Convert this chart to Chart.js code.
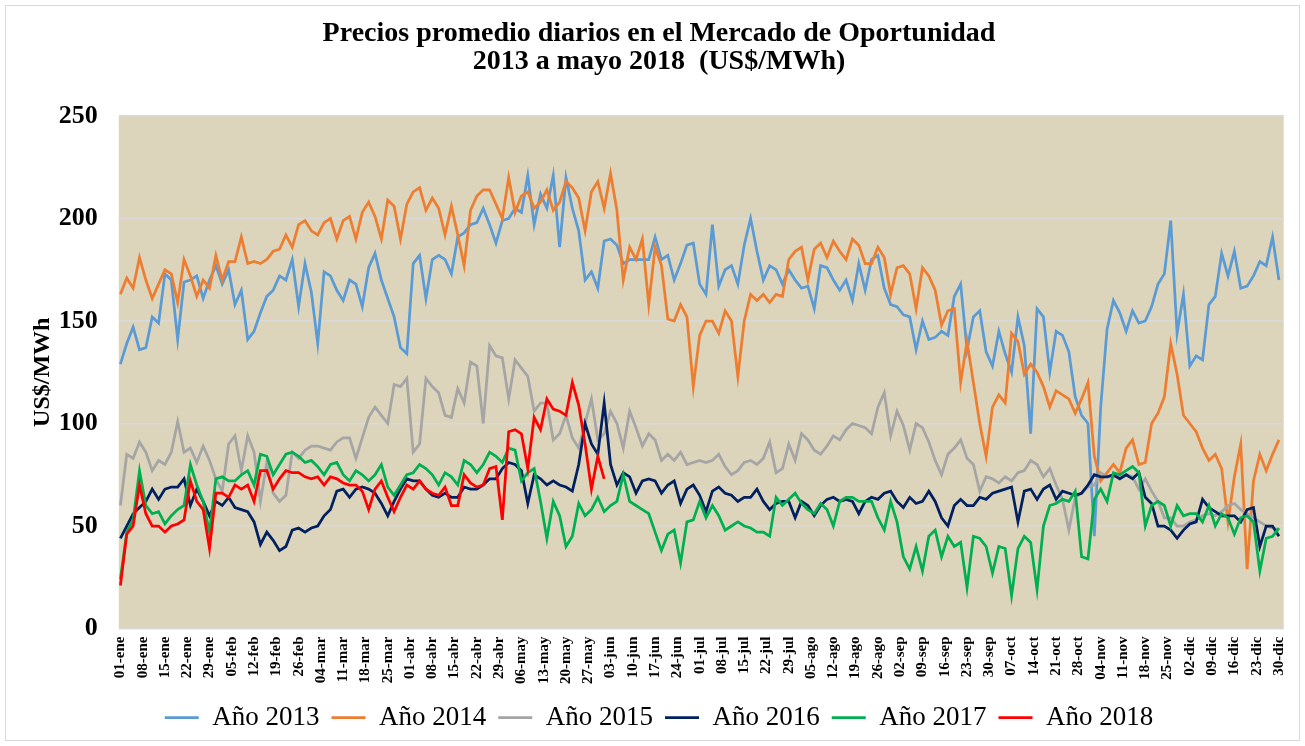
<!DOCTYPE html>
<html>
<head>
<meta charset="utf-8">
<script src="https://cdn.jsdelivr.net/npm/chart.js@4"></script>
<style>
  html, body { margin: 0; padding: 0; background: #ffffff; }
</style>
</head>
<body>
<canvas id="precios" width="1305" height="746"></canvas>
<script>
// valores leidos cada 2 dias (dia 0 = 1 de enero)
var PASO = 2;

var tickLabels = ["01-ene","08-ene","15-ene","22-ene","29-ene","05-feb","12-feb","19-feb","26-feb",
  "04-mar","11-mar","18-mar","25-mar","01-abr","08-abr","15-abr","22-abr","29-abr",
  "06-may","13-may","20-may","27-may","03-jun","10-jun","17-jun","24-jun",
  "01-jul","08-jul","15-jul","22-jul","29-jul","05-ago","12-ago","19-ago","26-ago",
  "02-sep","09-sep","16-sep","23-sep","30-sep","07-oct","14-oct","21-oct","28-oct",
  "04-nov","11-nov","18-nov","25-nov","02-dic","09-dic","16-dic","23-dic","30-dic"];
var tickDays = tickLabels.map(function (t, i) { return i * 7; });

var seriesNames = ["Año 2013", "Año 2014", "Año 2015", "Año 2016", "Año 2017", "Año 2018"];

var prices2013 = [
  129,139,147,136,137,152,149,173,170,141,169,170,172,161,170,177,168,175,158,165,141,145,154,162,165,172,170,180,157,178,
  164,139,174,172,165,160,170,168,157,176,183,170,161,152,137,134,178,182,161,180,182,180,173,191,193,197,198,205,197,188,
  199,200,205,203,221,197,212,205,221,186,220,205,194,170,174,166,189,190,187,178,180,180,180,180,191,180,182,170,178,
  187,188,168,163,197,167,175,177,168,187,200,184,170,177,175,168,175,170,166,167,156,177,176,170,165,170,160,178,165,
  180,182,166,158,157,153,152,136,150,141,142,145,143,162,168,136,152,155,135,128,145,134,125,152,138,95,156,152,125,
  145,143,135,113,104,100,45,108,146,160,154,145,155,149,150,157,168,173,199,144,163,128,133,131,158,162,183,172,184,166,167,172,179,177,191,170
];
var prices2014 = [
  163,171,166,181,170,161,168,175,173,159,180,172,162,170,166,182,170,179,179,191,178,179,178,180,184,185,192,186,197,199,
  194,192,198,200,190,199,201,190,203,208,201,190,209,206,190,207,213,215,204,210,205,192,206,192,177,204,211,214,214,207,
  200,220,203,211,213,205,208,214,204,208,218,215,210,194,213,218,205,222,204,170,186,180,190,158,186,177,151,150,158,
  152,118,143,150,150,144,155,150,123,150,163,160,163,159,163,162,180,184,186,170,185,188,181,189,184,180,190,187,178,
  178,186,181,163,176,177,173,156,176,172,165,148,155,156,120,140,120,100,84,108,114,110,144,140,124,129,125,118,108,
  116,114,112,105,112,120,84,72,76,80,76,88,92,80,81,100,105,113,139,124,104,100,96,88,82,85,78,52,74,90,29,72,85,77,85,92
];
var prices2015 = [
  60,85,83,91,86,77,82,80,86,101,86,88,81,89,82,73,67,90,94,77,94,86,62,81,66,62,65,86,83,87,
  89,89,88,87,91,93,93,83,93,103,108,104,100,119,118,122,86,90,122,118,115,104,103,117,110,130,128,100,138,133,
  132,112,131,127,123,106,110,110,92,95,104,93,88,100,112,92,95,106,100,88,106,98,89,95,92,82,85,82,86,
  80,81,82,81,82,85,79,75,77,81,82,80,83,91,76,78,90,82,95,92,87,85,89,94,92,97,100,99,98,
  95,108,115,94,106,99,87,100,98,91,82,75,85,88,92,83,80,67,74,73,71,74,72,76,77,82,80,74,78,
  70,63,48,64,66,69,70,76,74,74,74,75,74,68,73,67,62,54,54,50,50,52,53,55,56,55,57,60,61,58,56,54,52,50,49,48
];
var prices2016 = [
  44,50,56,59,62,68,63,68,69,69,73,60,68,62,55,62,60,64,59,58,57,52,41,47,43,38,40,48,49,47,
  49,50,55,58,67,68,64,68,69,68,66,61,55,62,68,73,72,72,68,65,64,66,64,64,69,68,68,70,73,73,
  78,81,80,77,61,75,73,70,72,70,69,67,80,100,90,85,110,80,70,76,74,66,72,73,72,66,70,72,61,
  68,70,65,57,67,69,66,65,62,64,64,68,62,58,61,62,62,54,62,60,55,60,63,64,62,63,62,56,62,
  64,63,66,67,62,59,64,61,62,67,62,54,50,60,63,60,60,64,63,66,67,68,69,52,67,68,63,68,70,
  63,67,66,65,66,70,75,74,74,75,73,75,73,76,64,61,50,50,48,44,48,51,52,63,59,57,55,55,55,52,58,59,40,50,50,45
];
var prices2017 = [
  24,47,53,77,60,56,57,51,55,58,60,80,70,62,47,73,74,72,72,75,77,70,85,84,75,80,85,86,84,81,
  82,79,75,80,81,75,72,77,75,72,75,80,69,65,70,75,76,80,78,75,70,76,74,70,82,80,76,80,86,84,
  81,88,87,72,76,78,62,44,62,55,40,45,61,55,58,64,57,60,62,75,62,60,58,56,47,38,46,48,32,
  52,53,62,54,60,55,48,50,52,50,49,47,47,45,64,60,63,66,61,58,56,61,58,50,62,64,64,62,62,
  62,54,48,62,52,35,29,40,28,45,48,35,45,40,42,20,45,44,40,27,40,39,16,39,45,42,19,50,60,
  61,63,62,67,35,34,63,68,62,76,75,77,79,76,50,60,62,60,50,60,55,56,56,52,60,50,56,54,46,54,55,52,28,44,45,49
];
var prices2018 = [
  21,46,50,70,56,50,50,47,50,51,53,72,62,58,39,66,66,64,70,68,70,62,77,77,68,73,77,76,76,74,
  73,74,70,74,73,71,70,70,67,58,68,72,64,57,64,70,68,72,68,66,65,69,60,60,75,71,69,70,78,79,
  53,96,97,95,78,103,97,112,107,106,104,120,109,90,68,84,73
];

var allPrices = [prices2013, prices2014, prices2015, prices2016, prices2017, prices2018];
var colors = ["#5B9BD5", "#ED7D31", "#A5A5A5", "#002060", "#00B050", "#FF0000"];
var serif = "'Liberation Serif', 'Times New Roman', serif";

function toPoints(values) {
  return values.map(function (v, i) { return { x: i * PASO, y: v }; });
}

var datasets = allPrices.map(function (values, i) {
  return {
    label: seriesNames[i],
    data: toPoints(values),
    borderColor: colors[i],
    backgroundColor: colors[i],
    borderWidth: 2.75,
    pointRadius: 0,
    pointStyle: "line",
    tension: 0,
    order: allPrices.length - i // 2018 queda encima
  };
});

// fondo blanco, marco gris y area de trazado color arena
var fondo = {
  id: "fondo",
  beforeDraw: function (chart) {
    var ctx = chart.ctx, a = chart.chartArea;
    ctx.save();
    ctx.fillStyle = "#ffffff";
    ctx.fillRect(0, 0, chart.width, chart.height);
    ctx.strokeStyle = "#d9d9d9";
    ctx.lineWidth = 1;
    ctx.strokeRect(5.5, 5.5, chart.width - 11, chart.height - 11);
    ctx.fillStyle = "#dcd5bb";
    ctx.fillRect(a.left, a.top, a.right - a.left, a.bottom - a.top);
    ctx.restore();
  }
};

new Chart(document.getElementById("precios").getContext("2d"), {
  type: "line",
  data: { datasets: datasets },
  plugins: [fondo],
  options: {
    responsive: false,
    animation: false,
    layout: { padding: { left: 28, right: 15, top: 0, bottom: 5 } },
    scales: {
      x: {
        type: "linear",
        min: -0.5,
        max: 365.5,
        afterBuildTicks: function (scale) {
          scale.ticks = tickDays.map(function (d) { return { value: d }; });
        },
        grid: { display: false, drawTicks: false },
        border: { display: false },
        ticks: {
          autoSkip: false,
          minRotation: 90,
          maxRotation: 90,
          padding: 8,
          color: "#000",
          font: { family: serif, size: 15, weight: "bold" },
          callback: function (value, index) { return tickLabels[index]; }
        }
      },
      y: {
        min: 0,
        max: 250,
        grid: { color: "#d9d9d9", lineWidth: 1.5, drawTicks: false },
        border: { display: false },
        ticks: {
          stepSize: 50,
          padding: 21,
          color: "#000",
          font: { family: serif, size: 26, weight: "bold" }
        },
        title: {
          display: true,
          text: "US$/MWh",
          color: "#000",
          padding: { top: 0, bottom: -19 },
          font: { family: serif, size: 24, weight: "bold" }
        }
      }
    },
    plugins: {
      title: {
        display: true,
        text: ["Precios promedio diarios en el Mercado de Oportunidad", "2013 a mayo 2018  (US$/MWh)"],
        color: "#000",
        padding: { top: 20, bottom: 40 },
        font: { family: serif, size: 28, weight: "bold", lineHeight: 1.0 }
      },
      legend: {
        position: "bottom",
        labels: {
          usePointStyle: true,
          pointStyleWidth: 34,
          padding: 12,
          color: "#000",
          font: { family: serif, size: 27 },
          sort: function (a, b) { return a.datasetIndex - b.datasetIndex; }
        }
      },
      tooltip: { enabled: false }
    }
  }
});
</script>
</body>
</html>
